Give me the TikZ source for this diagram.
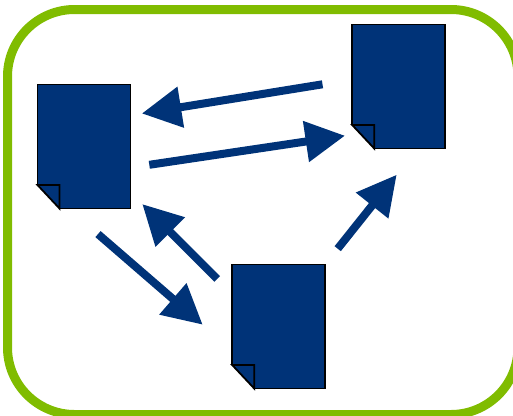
\documentclass[tikz,border=0pt]{standalone}
\usepackage{xcolor}
\usepackage{tikz}
\usetikzlibrary{arrows.meta, calc}
\definecolor{primary}{RGB}{0, 51, 120}
\definecolor{framegreen}{RGB}{128, 188, 0}
\tikzset{
  frameblock/.style={
    rectangle, rounded corners=67pt, draw=framegreen, line width=9pt,
    minimum width=510.5pt, minimum height=405pt, inner sep=0pt, outer sep=0pt
  },
  docblock/.style={
    rectangle, draw=black, fill=primary, line width=1.8pt,
    minimum width=93pt, minimum height=124pt, inner sep=0pt, outer sep=0pt
  },
  foldline/.style={
    draw=black, fill=primary, line width=1.8pt, line join=miter
  },
  flowline/.style={
    draw=primary, -{Triangle[length=39.5pt, width=39.5pt]}, line width=8pt
  }
}
\begin{document}
\begin{tikzpicture}[x=1pt, y=-1pt]
  \useasboundingbox (0,0) rectangle (513,415);

  % Green outline
  \node[frameblock] (frame) at (262.75,212) {};

  % Documents
  \node[docblock] (docleft) at (84,146.5) {};
  \node[docblock] (docright) at (398.7,86.5) {};
  \node[docblock] (docbottom) at (278.7,326.5) {};

  % Folded corners
  \foreach \docname in {docleft, docright, docbottom} {
    \coordinate (foldtop) at ($(\docname.south west)+(0,-23.5)$);
    \coordinate (foldin) at ($(\docname.south west)+(22,-23.5)$);
    \coordinate (foldbot) at ($(\docname.south west)+(22,0)$);
    \fill[white] ($(\docname.south west)+(-2,2)$) -- ($(foldtop)+(-2,0)$) -- (foldtop) -- (foldbot) -- ($(foldbot)+(0,2)$) -- cycle;
    \draw[foldline] (foldtop) -- (foldin) -- (foldbot) -- cycle;
  }

  % Arrow ends
  \coordinate (rl_start) at ($(docright.west)+(-29.7,-2.2)$);
  \coordinate (rl_end) at ($(docleft.east)+(11.3,-33)$);
  \coordinate (lr_start) at ($(docleft.east)+(18.8,18.3)$);
  \coordinate (lr_end) at ($(docright.west)+(-7.2,49.2)$);
  \coordinate (lb_start) at ($(docleft.south)+(14,25.6)$);
  \coordinate (lb_end) at ($(docbottom.west)+(-29.5,-1.8)$);
  \coordinate (bl_start) at ($(docbottom.west)+(-15,-47.5)$);
  \coordinate (bl_end) at ($(docleft.south)+(58.3,-4.4)$);
  \coordinate (br_start) at ($(docbottom.north)+(59,-15.8)$);
  \coordinate (br_end) at ($(docright.south)+(-2,26.2)$);

  % Transitions
  \draw[flowline] (rl_start) -- (rl_end);
  \draw[flowline] (lr_start) -- (lr_end);
  \draw[flowline] (lb_start) -- (lb_end);
  \draw[flowline] (bl_start) -- (bl_end);
  \draw[flowline] (br_start) -- (br_end);

\end{tikzpicture}
\end{document}
